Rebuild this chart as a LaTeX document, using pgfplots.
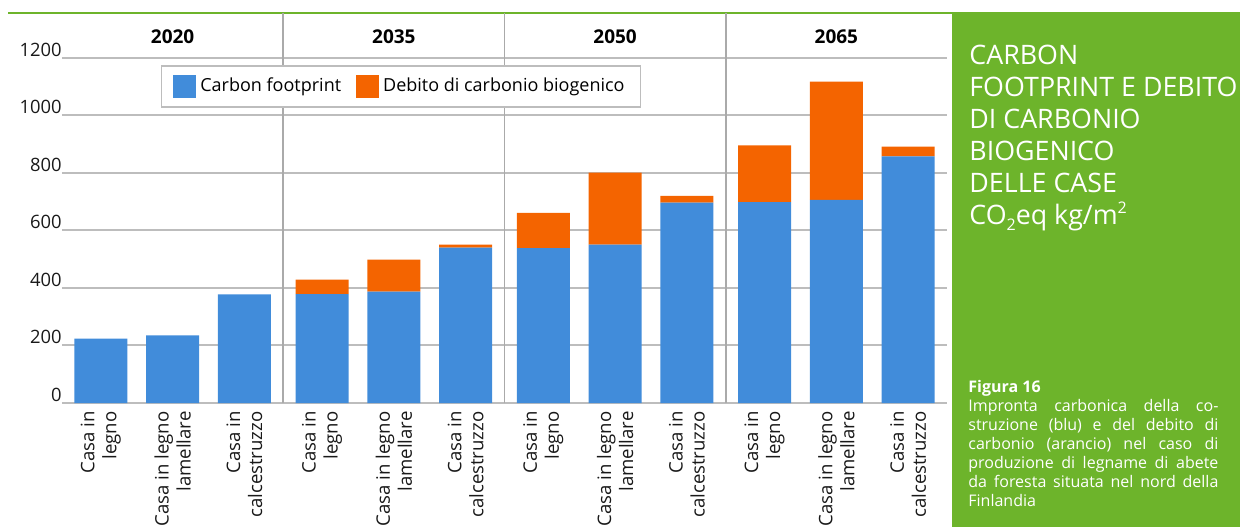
\documentclass[border=0pt]{standalone}
\usepackage{pgfplots}
\pgfplotsset{compat=1.18}
\usepackage{fontspec}
\setmainfont{Open Sans}

\definecolor{cfblue}{HTML}{418CDA}
\definecolor{cforange}{HTML}{F46400}
\definecolor{panelgreen}{HTML}{6DB42B}
\definecolor{gridgray}{HTML}{BDBDBD}

\begin{document}
\begin{tikzpicture}
	\path[use as bounding box] (0pt,0pt) rectangle (620pt,263.5pt);
	% pannello verde a destra
	\fill[panelgreen] (476pt,0pt) rectangle (620pt,257.6pt);
	\draw[panelgreen, line width=1.2pt] (4pt,257pt) -- (476pt,257pt);

	\begin{axis}[
	at={(31pt,62pt)}, anchor=south west,
	scale only axis,
	width=442.5pt, height=195pt,
	xmin=0, xmax=12.32,
	ymin=0, ymax=1355,
	axis line style={draw=none},
	ybar stacked,
	bar width=26.5pt,
	xtick={0.54,1.54,2.54,3.62,4.62,5.62,6.70,7.70,8.70,9.78,10.78,11.78},
	xticklabels={Casa in\\legno, Casa in legno\\lamellare, Casa in\\calcestruzzo,
		Casa in\\legno, Casa in legno\\lamellare, Casa in\\calcestruzzo,
		Casa in\\legno, Casa in legno\\lamellare, Casa in\\calcestruzzo,
		Casa in\\legno, Casa in legno\\lamellare, Casa in\\calcestruzzo},
	xticklabel style={yshift=-4pt, rotate=90, anchor=east, align=right, inner sep=0pt,
		font=\fontsize{9.3}{11}\selectfont, text=black!90},
	xtick pos=bottom, ytick pos=left,
	ytick={0,200,...,1200},
	yticklabel style={anchor=south east, inner sep=0pt, yshift=0.5pt,
		font=\fontsize{9.2}{11}\selectfont, text=black!90},
	/pgf/number format/assume math mode=true,
	/pgf/number format/1000 sep={},
	ymajorgrids,
	major grid style={gridgray, line width=1pt},
	major tick length=0pt,
	extra x ticks={3.08,6.16,9.24},
	extra x tick labels={},
	extra x tick style={xmajorgrids=true, major grid style={gridgray!90!black, line width=0.9pt}},
	legend columns=2,
	legend style={at={(rel axis cs:0.383,0.8115)}, anchor=center,
		draw=gridgray, line width=0.8pt, fill=white,
		inner xsep=6pt, inner ysep=4.5pt,
		font=\fontsize{9}{11}\selectfont,
		/tikz/every even column/.append style={column sep=5.5pt},
		nodes={inner xsep=2pt, inner ysep=0.5pt}},
	legend image code/.code={\fill[#1] (0pt,-5.75pt) rectangle (11.5pt,5.75pt);},
	clip=false,
	]
	\addplot[fill=cfblue, draw=none] coordinates {
		(0.54,224) (1.54,235) (2.54,377)
		(3.62,378) (4.62,387) (5.62,540)
		(6.70,538) (7.70,550) (8.70,696)
		(9.78,698) (10.78,706) (11.78,857)};
	\addlegendentry{Carbon footprint}
	\addplot[fill=cforange, draw=none] coordinates {
		(0.54,0) (1.54,0) (2.54,0)
		(3.62,51) (4.62,111) (5.62,10)
		(6.70,123) (7.70,250) (8.70,24)
		(9.78,197) (10.78,411) (11.78,34)};
	\addlegendentry{Debito di carbonio biogenico}

	\node[font=\fontsize{9.5}{11}\selectfont\bfseries] at (axis cs:1.54,1272) {2020};
	\node[font=\fontsize{9.5}{11}\selectfont\bfseries] at (axis cs:4.62,1272) {2035};
	\node[font=\fontsize{9.5}{11}\selectfont\bfseries] at (axis cs:7.70,1272) {2050};
	\node[font=\fontsize{9.5}{11}\selectfont\bfseries] at (axis cs:10.78,1272) {2065};
	\end{axis}

	% titolo nel pannello (base = ultima riga)
	\node[anchor=base west, align=left, inner sep=0pt, text=white,
		font=\fontsize{13.4}{15.95}\selectfont] at (484.5pt,151.5pt)
		{CARBON\\FOOTPRINT E DEBITO\\DI CARBONIO\\BIOGENICO\\DELLE CASE\\CO\raisebox{-0.45ex}{\fontsize{8}{8}\selectfont 2}eq kg/m\raisebox{0.7ex}{\fontsize{8}{8}\selectfont 2}};
	% didascalia
	\node[anchor=base west, align=left, inner sep=0pt, text=white,
		font=\fontsize{8}{9.5}\selectfont] at (484pt,10.25pt)
		{\textbf{Figura 16}\\
		\makebox[125pt][s]{Impronta carbonica della co-}\\
		\makebox[125pt][s]{struzione (blu) e del debito di}\\
		\makebox[125pt][s]{carbonio (arancio) nel caso di}\\
		\makebox[125pt][s]{produzione di legname di abete}\\
		\makebox[125pt][s]{da foresta situata nel nord della}\\
		Finlandia};
\end{tikzpicture}
\end{document}
